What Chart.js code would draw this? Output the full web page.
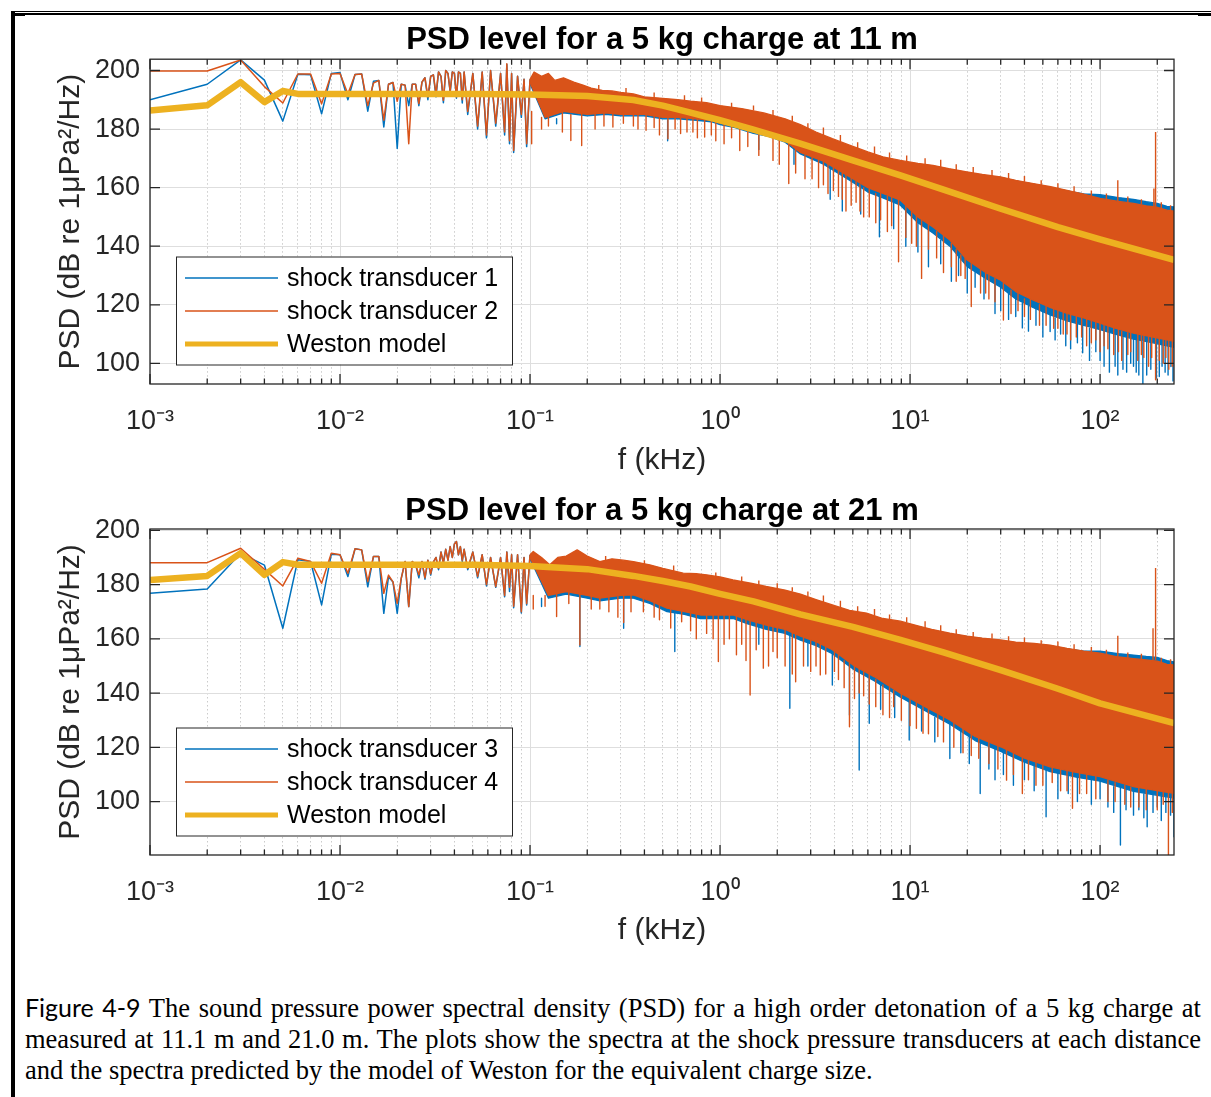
<!DOCTYPE html>
<html><head><meta charset="utf-8">
<script src="https://cdn.jsdelivr.net/npm/chart.js@4.4.1/dist/chart.umd.min.js"></script>
<style>
html,body{margin:0;padding:0;background:#fff;}
body{width:1211px;height:1097px;position:relative;overflow:hidden;}
canvas{position:absolute;left:0;}
#c1{top:0;}
#c2{top:480px;}
.cap{position:absolute;left:25px;width:1176px;font-family:"Liberation Serif","Times New Roman",serif;font-size:26.5px;line-height:31.5px;color:#000;white-space:nowrap;}
.j{text-align:justify;text-align-last:justify;}
.fig{font-family:Lato,"Open Sans",sans-serif;font-size:25px;}
.bar{position:absolute;background:#000;}
</style></head><body>
<canvas id="c1" width="1211" height="480"></canvas>
<canvas id="c2" width="1211" height="470"></canvas>
<div class="cap j" style="top:992px"><span class="fig">Figure 4-9</span> The sound pressure power spectral density (PSD) for a high order detonation of a 5 kg charge at</div>
<div class="cap j" style="top:1023.5px">measured at 11.1 m and 21.0 m. The plots show the spectra at the shock pressure transducers at each distance</div>
<div class="cap" style="top:1055px">and the spectra predicted by the model of Weston for the equivalent charge size.</div>
<div class="bar" style="left:11px;top:11px;width:1200px;height:1px"></div>
<div class="bar" style="left:11px;top:13px;width:1200px;height:1.5px"></div>
<div class="bar" style="left:11px;top:11px;width:4px;height:1086px"></div>
<div class="bar" style="left:11px;top:14px;width:14px;height:1.5px"></div>
<div class="bar" style="left:1198px;top:13px;width:13px;height:2.5px"></div>
<script>
// ---------------- DATA (frequencies in kHz, levels in dB re 1uPa^2/Hz) ----------------
const titles = ['PSD level for a 5 kg charge at 11 m', 'PSD level for a 5 kg charge at 21 m'];
const legend1 = ['shock transducer 1', 'shock transducer 2', 'Weston model'];
const legend2 = ['shock transducer 3', 'shock transducer 4', 'Weston model'];
const xTitle = 'f (kHz)';
const yTitle = 'PSD (dB re 1\u03BCPa\u00B2/Hz)';
const xMajor = [0.001, 0.01, 0.1, 1, 10, 100];
const xMajorLabels = ['10\u207B\u00B3', '10\u207B\u00B2', '10\u207B\u00B9', '10\u2070', '10\u00B9', '10\u00B2'];
const yTicks = [100, 120, 140, 160, 180, 200];

// low-frequency trace frequencies (shared)
const lowF = [0.001,0.002,0.003,0.004,0.005,0.006,0.007,0.008,0.009,0.010,
  0.011,0.012,0.013,0.014,0.015,0.016,0.017,0.018,0.019,0.020,
  0.021,0.022,0.023,0.024,0.025,0.026,0.027,0.028,0.029,0.030,
  0.031,0.032,0.033,0.034,0.035,0.036,0.037,0.038,0.039,0.040,
  0.041,0.042,0.043,0.044,0.045,
  0.047,0.050,0.053,0.056,0.059,0.062,0.066,0.070,0.0735,0.0755,0.078,0.080,0.082,0.086,0.090,0.093,0.096,0.100];

// Panel 1 (11 m)
const p1t1Low = [190.0,195.3,203.6,196.7,182.7,198.7,198.5,185.2,199.0,199.3,
  190.0,198.6,198.8,186.1,196.3,196.6,180.7,195.3,195.9,173.4,
  195.3,195.0,188.0,195.3,195.3,188.0,196.0,197.5,190.0,198.0,
  198.5,191.0,199.5,198.0,189.0,200.0,199.0,192.5,199.5,199.0,
  190.5,199.5,199.0,188.9,199.5,
  185.0,199.0,180.0,199.5,177.0,200.0,181.0,199.0,178.0,202.0,175.0,199.0,172.0,198.0,184.0,197.0,174.0,197.0];
const p1t2Low = [199.8,199.8,203.6,194.5,188.9,198.8,198.8,188.6,198.8,199.0,
  192.0,198.6,198.8,188.0,195.7,196.6,183.0,195.3,195.9,189.5,
  195.3,195.0,175.0,195.3,195.3,188.7,196.0,197.5,191.0,198.0,
  198.5,192.0,199.5,198.0,189.8,200.0,199.0,193.0,199.5,199.0,
  191.0,199.5,199.0,190.0,199.5,
  186.0,199.0,181.0,199.5,178.0,200.0,182.0,199.0,179.0,202.3,176.0,199.0,172.7,198.0,185.0,197.0,175.0,197.0];
const p1UpF = [0.1,0.105,0.115,0.125,0.135,0.15,0.17,0.19,0.21,0.24,0.27,0.3,0.35,0.4,0.5,0.6,0.7,0.85,1.0,1.3,1.7,2.2,2.65,3.2,3.9,4.8,6.0,7.2,8.9,11,13.2,16,19.9,24,29.9,36,44.6,55,67,82,100,125,150,175,200,225,245];
const p1t2Up = [197,199.5,198,199,196.6,197.5,196,195,194,193.2,193,192.5,192,191,190.5,190,189.5,189,188,187,185.5,183.5,181.5,179,176.7,174.5,172.2,170.5,169.3,168.3,167.6,166.5,165.4,164.5,163.7,162.5,161.4,160.3,159.1,157.8,156.3,155.3,154.6,153.8,153.3,152.3,152];
const p1t1Up = [196,199,197.5,198.5,196,197,195.5,194.5,193.5,193,192.5,192,191.5,190.5,190,189.5,189,188.5,187.5,186.5,185,183,181,178.5,176.2,174,171.7,170,168.8,167.8,167,166,165,164.2,163.5,162.3,161.2,160,158.9,157.9,157.6,156.6,156,155.2,154.6,153.6,153.4];
const p1LoF = [0.1,0.12,0.15,0.2,0.25,0.3,0.4,0.5,0.6,0.75,0.9,1.0,1.2,1.5,1.8,2.2,2.65,3.5,4.8,6.0,7.2,8.9,11,13.2,16.2,20,25,30,36,44.6,55,67,82,100,120,150,190,225,245];
const p1t2Lo = [196,184,186,185,185.5,185,185,184,184,183.5,183,182,181,179,178,176,172,169,163.7,160,158,155.7,150,146.6,142.1,135.3,131,128.4,124.5,121.6,119,117.1,115.5,113.7,112,110.3,109,108,107.5];
const p1t1Lo = [195.5,183.5,185.5,184.5,185,184.5,184.5,183.5,183.5,183,182.5,181.5,180.5,178.5,177.5,175.5,171.5,168,162.5,158.5,156.5,154,148,144.5,140,133,129,126,122,119,116.5,114.5,113,111.5,110,108.3,107,106,105.5];
// dips / spikes: [f, from, to]
const p1t2Sp = [[0.102,186,175.0],[0.115,184,180],[0.125,186,181],[0.148,186,179],[0.164,185,176.1],[0.187,185,174.4],[0.22,186,180],[0.245,185.5,181],[0.273,185.5,180.7],[0.31,185,182],[0.35,185,181],[0.37,185,180],[0.408,185,179.6],[0.45,184.5,180.5],[0.48,184.3,178],[0.532,184,176.7],[0.58,184,180],[0.62,184,178.5],[0.67,184,179.0],[0.72,183.7,179],[0.76,183.5,177],[0.83,183,177.3],[0.9,183,178],[0.95,182.5,176],
  [1.05,181.5,175],[1.15,181,177],[1.27,181,172.7],[1.4,180,174],[1.6,179,171],[1.9,177.5,169.3],[2.05,177,168],[2.3,176,161.4],[2.5,174,165],[2.8,171,163],[3.05,171,163],[3.3,170,160],[3.5,169,161],[3.7,168,158],[3.95,167,159],[4.2,166,157],[4.4,165,156],[4.6,164.5,152],[4.9,163.5,154],[5.2,162,155],[5.45,161,152],[5.7,160,150],[6.1,159.5,150],[6.6,158,148],[7.0,158,149],[7.6,157,145],[8.0,157,147],[8.7,156,134.7],[9.5,154,143],[10.2,152,141],[10.8,151,140],[11.5,149,129],[12.5,148,139],[13.8,145,136],[15,144,131],[16.5,141,133],[17.5,139,128],[18.5,137,130],[19.5,136,129],[21,134,119.4],[23.5,132,124],[25,131,124],[26,130,122],[28,129,121],[31,127.5,114.8],[34,125,117],[37,124,118],[40,122,116],[43,122,115],[48,120,113],[52,119.5,113],[57,118.7,112],[60,118,112],[64,117.5,110],[67,117.1,110],[70,117,108],[75,116,109],[80,115.7,109],[85,115,106],[90,114.5,107],[95,114,108],[100,113.7,104],[105,113.3,106],[110,113,105],[118,112,103],[125,111.8,104],[130,111,101],[140,110.5,103],[145,110.4,104],[158,110,101],[165,109.7,103],[170,109.5,102],[180,109,99],[187,109,102],[196,108.5,94.4],[205,108.5,101],[215,108,100],[222,108,102],[230,108,98],[240,107.5,99],
  [0.23,193.4,195],[0.32,192.3,194],[0.45,190.7,192.5],[0.65,189.8,191.5],[0.8,189.2,190.8],[1.15,187.5,189],[1.5,186.3,188],[1.9,184.7,186.5],[2.4,182.7,184.5],[2.9,180.4,182],
  [3.5,178,180.5],[4.3,175.5,178],[5.3,173.3,175.5],[6.5,171.5,174],[7.8,170,172],[9.6,169,171],[12,168,170],[14.5,167,169.5],[17.5,166,168],[21.5,165,167],[27,164,166],[33,163,165],[40,162,164],[49,160.8,162.5],[60,159.7,161.5],[73,158.5,160.5],[90,157,159],[108,156,158],[140,154.9,157],[165,154.2,156],[210,153,155],[235,152.2,154],
  [124,155.3,162.5],[192,153.5,159.7],[196,153.5,179]];
const p1t1Sp = [[0.138,183.5,181.8],[0.53,183,176],[1.6,178,173],[2.45,174,168],[3.8,168,156],[4.4,165,152],[5.5,160,151],[6.9,157,143.2],[8.2,155,146],[9.5,152,140],[11,148,138],[12.5,146,133],[14.5,142,134],[16.5,139.5,128],[18,137,130],[20,133,124],[22,131,126],[24.5,129.5,122],[28,127,117],[30,126,118],[33,124,115],[36,122,116],[39,120.5,112.1],[42,119.5,111],[46,118.5,113],[50,117.5,109],[54.6,116.5,110.9],[58,115.5,108],[62,115,110],[66,114.5,106],[70,113.8,105],[76,113.3,107],[81,113,103.6],[88,112,101],[95,111.7,104],[100,111.5,101],[105,111,99],[112,110.5,97],[120,110,99],[124,109.8,96],[132,109.2,98],[138,108.8,97],[145,108.5,100],[150,108.3,99],[155,108,97],[160,107.7,96],[168,107.3,92.4],[176,107.1,96],[185,107,98],[198,106.6,95],[205,106.5,95.5],[212,106.3,99],[220,106.1,97],[228,106,96],[236,105.7,98.9],[242,105.6,94]];

// Panel 2 (21 m)
const p2t3Low = [176.8,178.4,191.6,187.2,163.9,189.2,188.5,172.5,191.2,191.0,
  183.0,193.2,192.8,179.2,190.4,190.4,169.4,182.9,181.0,169.4,
  182.3,188.5,171.9,188.5,187.3,182.5,188.5,182.0,189.0,183.5,
  188.3,190.0,185.5,192.0,188.0,193.0,189.0,194.0,190.0,195.0,
  195.9,191.0,194.0,188.5,193.0,
  185.5,192.0,182.5,191.0,179.5,190.0,179.0,190.0,175.5,192.0,177.5,191.0,171.5,191.0,169.5,190.0,172.5,191.0];
const p2t4Low = [188.1,188.1,193.4,185.6,179.5,189.7,188.5,180.5,191.6,191.0,
  184.2,193.2,192.8,181.1,190.4,190.4,176.8,183.5,181.0,173.1,
  182.3,188.5,171.9,188.5,187.3,183.6,188.5,182.5,189.0,184.0,
  188.3,190.0,186.0,192.0,188.0,193.0,189.0,194.0,190.0,195.0,
  195.9,191.0,194.0,189.0,193.0,
  186.0,192.0,183.0,191.0,180.0,190.0,179.3,190.0,176.0,192.0,179.0,191.0,172.0,191.0,170.0,190.0,173.0,191.0];
const p2UpF = [0.1,0.104,0.115,0.127,0.14,0.155,0.177,0.2,0.233,0.27,0.31,0.35,0.427,0.5,0.64,0.75,0.85,1.0,1.17,1.45,1.75,2.2,2.65,3.2,3.9,4.8,5.9,7.2,8.9,11,13,16.2,20,24,30,36,45,54.6,67,82,100,125,150,175,200,225,245];
const p2t4Up = [191,192.2,190,187.3,190,190.5,192.8,190.5,188.5,189.5,189,188.5,187.3,186,184.2,184,183.6,182.8,181.7,180.5,179.3,178,176.5,174.5,172.5,170.5,169.5,167.5,166.5,164.8,163.5,162.1,161,160.3,159.6,158.8,158.3,157.7,156.5,155.5,154.7,153.3,152.7,152.2,151.8,150.6,150.4];
const p2t3Up = [190.5,191.7,189.5,186.8,189.5,190,192.3,190,188,189,188.5,188,186.8,185.5,183.7,183.5,183.1,182.3,181.2,180,178.8,177.5,176,174,172,170,169,167,166,164.5,163.2,161.8,160.8,160.1,159.3,158.5,158,157.4,156.3,155.5,155.5,154.5,154,153.5,153.2,152,151.5];
const p2LoF = [0.1,0.125,0.155,0.2,0.233,0.3,0.35,0.43,0.526,0.65,0.788,1.0,1.17,1.4,1.75,2.2,2.65,3.2,3.9,5.1,6.5,8.9,12,16.2,22,30,40,54.6,75,100,150,200,245];
const p2t4Lo = [190,176,177.4,176,175,176,176.2,174,171.3,170,168.8,168.8,168.8,167,165.1,163.5,161,159,156,150,146,140,135,130.1,124,120.2,116,112.8,110.8,109.2,105.5,104,103];
const p2t3Lo = [189.5,175,176.5,175,174,175,175,173,170,169,167.5,167.5,167.5,165.5,163.5,162,159.5,157.5,154.5,148.5,144.5,138.5,133.5,128.5,122.5,118.5,114.5,111,109,107.5,103.8,102.3,101.3];
const p2t4Sp = [[0.104,176,171],[0.12,176,172],[0.138,177,168.2],[0.16,177,173],[0.183,177,157.7],[0.21,176,171],[0.233,175.5,171],[0.26,175.5,170],[0.29,175.5,168],[0.311,176,166],[0.34,176,170],[0.395,175,170],[0.45,174,168],[0.48,173,167],[0.55,171,164],[0.628,170,166.3],[0.7,169.5,163],[0.75,169,160],[0.85,168.8,162],[0.92,168.8,160],[0.98,168.8,151.6],[1.05,168.8,158],[1.12,168.8,160],[1.22,168.5,154.1],[1.3,168,158],[1.37,167.5,152],[1.44,167,139.3],[1.55,166,156],[1.69,165.5,149.2],[1.8,165,150],[1.9,165,155.3],[2.0,164.3,153],[2.2,163.5,150],[2.4,162.5,147],[2.5,162,144.2],[2.75,160.5,150],[3.0,160,148],[3.2,159,150],[3.37,158,146.7],[3.6,158,147],[4.0,156,148],[4.2,154,145],[4.5,152,142],[4.8,151,127.6],[5.1,150,138],[5.4,149,140],[5.7,148,139],[6.1,147,136],[6.6,145,135],[7.2,143,132],[7.8,142,131],[8.2,141,135],[9,140,130],[10,138,128],[10.8,137,127],[11.7,135,125.2],[12.5,134,125],[14,132,124],[15,131,122],[17,129,120],[19,127,118],[21,125,117],[23,124,116],[26,122,114],[29,121,112],[32.2,119.5,107.9],[35,118,110],[39,117,103],[42,115.5,108],[46,114.5,106],[50,113.5,106],[56,112.6,107],[62,112,104],[67,111.5,104],[71.6,111,97.5],[78,110.6,103],[85,110,103],[95,109.5,101],[110,108,100],[120,107,100],[135,106,99],[145,105.3,98],[160,105,98],[175,104.6,97],[200,104,97],[215,103.7,99],[229,103.3,80.3],[240,103,96],
  [0.25,189,190.5],[0.4,187.6,189],[0.57,185,187],[0.95,183,184.5],[1.3,181.1,183],[1.6,179.8,181.5],[2.0,178.6,180.5],[2.4,177.5,179],[2.9,175.7,177.5],
  [3.5,173.5,176],[4.3,171.5,174],[5.3,170,172],[6.5,168.5,171],[7.8,167,169],[9.6,166,168],[12,164,166.5],[14.5,162.8,165],[17.5,161.6,163.5],[21.5,160.7,162.5],[27,160,162],[33,159.2,161],[40,158.5,160.5],[49,158,159.5],[60,157.1,159],[73,156,158],[90,155.1,157],[108,154.2,156],[140,152.9,155],[165,152.4,154.5],[210,151.5,153],[235,150.5,152.5],
  [124,153.3,161.1],[190,152.2,163.9],[196,152.2,186.1]];
const p2t3Sp = [[0.115,175,171.9],[0.183,176,157.2],[0.311,175,163.9],[0.578,169.5,155.3],[1.6,165,158],[2.33,162,134.4],[2.9,160,150],[3.9,154.5,143],[4.8,150,131.9],[5.4,148,111.6],[6.1,146,128.9],[7.0,144,134],[8.3,140,131],[9.9,137,122.7],[11.5,134,126],[13.5,131,122],[16.2,128.5,115.9],[18.5,126,118],[20.5,124,114],[23.4,122,103],[26,120.5,112],[28,119.5,108],[31,118,110],[35,116.5,106],[40,114.5,108],[45,113,104],[52,111.5,94.4],[60,110.3,101],[68,109.7,103],[76,109,100],[90,108,99],[100,107.5,101],[110,106.5,98],[118,105.5,96],[128,105,84],[137,104.5,97],[150,103.8,95],[160,103.3,97],[170,102.8,94],[177,102.6,90.7],[190,102.3,96],[200,102.3,98],[210,102,93],[222,101.7,96],[235,101.4,95],[245,101.3,87]];

// Weston model
const wF = [0.001,0.002,0.003,0.004,0.005,0.006,0.02,0.05,0.1,0.2,0.35,0.5,0.7,1.0,1.5,2.65,5,8.9,15,30,60,100,245];
const p1W = [186.3,188.1,196.0,189.2,193.0,192.0,192.0,192.0,191.8,191.3,189.9,188.0,185.6,183.0,179.8,175.0,169.3,164.2,159.3,152.8,146.5,142.3,135.3];
const p2W = [181.7,183.2,191.6,183.6,188.3,187.3,187.3,187.3,186.9,185.7,183.2,181.3,179.3,176.6,173.8,169.0,164.4,159.6,155.0,148.5,141.6,136.2,128.9];

// ---------------- STYLE / BUILD ----------------
const FONT = '"Liberation Sans", Arial, Helvetica, sans-serif';
Chart.defaults.font.family = FONT;
const BLUE = '#0072BD', ORANGE = '#D95319', YELLOW = '#EDB120', AXIS = '#262626';
const X_MIN = 0.001, X_MAX = 245;

const xTickVals = [];
xMajor.forEach(d => { xTickVals.push(d); [2,3,4,5,6,7,8,9].forEach(m => { if (m * d <= X_MAX) xTickVals.push(m * d); }); });
const isMajor = v => xMajor.indexOf(v) >= 0;

function xy(F, V) { return F.map((f, i) => ({x: f, y: V[i]})); }
function spikes(S) { const o = []; S.forEach(([f, a, b]) => { o.push({x: f, y: a}, {x: f, y: b}, {x: f, y: null}); }); return o; }

function buildDatasets(P) {
  const base = {pointRadius: 0, pointHoverRadius: 0, tension: 0, clip: 0, fill: false, borderJoinStyle: 'round', spanGaps: false};
  return [
    {...base, label: P.names[2], data: xy(wF, P.w), borderColor: YELLOW, borderWidth: 6.5, order: 1},
    {...base, label: P.names[1], data: xy(lowF, P.oLow), borderColor: ORANGE, borderWidth: 1.5, order: 2},
    {...base, label: P.names[1] + ' (upper)', data: xy(P.upF, P.oUp), borderColor: ORANGE, backgroundColor: ORANGE, borderWidth: 1.3, fill: '+1', order: 2},
    {...base, label: P.names[1] + ' (lower)', data: xy(P.loF, P.oLo), borderColor: ORANGE, borderWidth: 1.3, order: 2},
    {...base, label: P.names[1] + ' (dips)', data: spikes(P.oSp), borderColor: ORANGE, borderWidth: 1.4, order: 2},
    {...base, label: P.names[0], data: xy(lowF, P.bLow), borderColor: BLUE, borderWidth: 1.5, order: 3},
    {...base, label: P.names[0] + ' (upper)', data: xy(P.upF, P.bUp), borderColor: BLUE, backgroundColor: BLUE, borderWidth: 1.3, fill: '+1', order: 3},
    {...base, label: P.names[0] + ' (lower)', data: xy(P.loF, P.bLo), borderColor: BLUE, borderWidth: 1.3, order: 3},
    {...base, label: P.names[0] + ' (dips)', data: spikes(P.bSp), borderColor: BLUE, borderWidth: 1.4, order: 3}
  ];
}

const matlabAxes = {
  id: 'matlabAxes',
  afterDraw(chart) {
    const {ctx, chartArea: a} = chart;
    const xs = chart.scales.x, ys = chart.scales.y;
    ctx.save();
    ctx.strokeStyle = AXIS; ctx.lineWidth = 1.3;
    ctx.beginPath();
    xs.ticks.forEach(t => {
      const px = xs.getPixelForValue(t.value);
      const L = isMajor(t.value) ? 10 : 5.5;
      ctx.moveTo(px, a.bottom); ctx.lineTo(px, a.bottom - L);
      ctx.moveTo(px, a.top); ctx.lineTo(px, a.top + L);
    });
    ys.ticks.forEach(t => {
      const py = ys.getPixelForValue(t.value);
      ctx.moveTo(a.left, py); ctx.lineTo(a.left + 10, py);
      ctx.moveTo(a.right, py); ctx.lineTo(a.right - 10, py);
    });
    ctx.stroke();
    ctx.strokeRect(a.left, a.top, a.right - a.left, a.bottom - a.top);
    ctx.restore();
  }
};

function legendPlugin(names) {
  return {
    id: 'matlabLegend',
    afterDraw(chart) {
      const a = chart.chartArea, ctx = chart.ctx;
      const W = 336, H = 108, L = a.left + 26, T = a.bottom - 19.5 - H;
      ctx.save();
      ctx.fillStyle = '#fff'; ctx.fillRect(L, T, W, H);
      ctx.strokeStyle = AXIS; ctx.lineWidth = 1; ctx.strokeRect(L + 0.5, T + 0.5, W, H);
      const rows = [[BLUE, 1.5], [ORANGE, 1.5], [YELLOW, 5]];
      rows.forEach(([c, w], i) => {
        const yy = T + 21.5 + i * 33;
        ctx.strokeStyle = c; ctx.lineWidth = w;
        ctx.beginPath(); ctx.moveTo(L + 9, yy); ctx.lineTo(L + 102, yy); ctx.stroke();
        ctx.fillStyle = '#000'; ctx.font = '25px ' + FONT; ctx.textBaseline = 'middle'; ctx.textAlign = 'left';
        ctx.fillText(names[i], L + 111, yy + 1);
      });
      ctx.restore();
    }
  };
}

function makeChart(id, P) {
  return new Chart(document.getElementById(id), {
    type: 'line',
    data: {datasets: buildDatasets(P)},
    options: {
      responsive: false, animation: false, devicePixelRatio: 1, events: [],
      layout: {padding: {left: 40, right: 37, top: 0, bottom: 0}},
      plugins: {
        legend: {display: false}, tooltip: {enabled: false},
        title: {display: true, text: P.title, fullSize: false, color: '#000',
          font: {family: FONT, size: 31, weight: 'bold'}, padding: {top: P.tPadTop, bottom: P.tPadBot}}
      },
      scales: {
        x: {
          type: 'logarithmic', min: X_MIN, max: X_MAX, position: 'bottom',
          afterBuildTicks: s => { s.ticks = xTickVals.map(v => ({value: v, major: isMajor(v)})); },
          afterFit: s => { s.height = P.xAxisH; },
          ticks: {autoSkip: false, maxRotation: 0, minRotation: 0, padding: 21.5, color: AXIS,
            font: {family: FONT, size: 27},
            callback: v => { const i = xMajor.indexOf(v); return i >= 0 ? xMajorLabels[i] : ''; }},
          grid: {drawTicks: false, lineWidth: 1, color: c => (c.tick && !isMajor(c.tick.value)) ? '#cbcbcb' : '#dedede'},
          border: {display: false, dash: c => (c.tick && !isMajor(c.tick.value)) ? [1.5, 2.5] : []},
          title: {display: true, text: xTitle, color: AXIS, font: {family: FONT, size: 30}, padding: {top: 0, bottom: 1}}
        },
        y: {
          type: 'linear', min: P.ymin, max: P.ymax, position: 'left',
          afterBuildTicks: s => { s.ticks = yTicks.map(v => ({value: v})); },
          afterFit: s => { s.width = 110; },
          ticks: {padding: 10, color: AXIS, font: {family: FONT, size: 27}, callback: v => String(v)},
          grid: {drawTicks: false, lineWidth: 1, color: '#dedede'},
          border: {display: false},
          title: {display: true, text: yTitle, color: AXIS, font: {family: FONT, size: 30}, padding: {top: 13, bottom: 0}}
        }
      }
    },
    plugins: [matlabAxes, legendPlugin(P.names)]
  });
}

makeChart('c1', {
  title: titles[0], names: legend1, tPadTop: 22, tPadBot: 0, xAxisH: 96, ymin: 92.95, ymax: 203.85,
  w: p1W, oLow: p1t2Low, bLow: p1t1Low, upF: p1UpF, oUp: p1t2Up, bUp: p1t1Up,
  loF: p1LoF, oLo: p1t2Lo, bLo: p1t1Lo, oSp: p1t2Sp, bSp: p1t1Sp
});
makeChart('c2', {
  title: titles[1], names: legend2, tPadTop: 13, tPadBot: -1.2, xAxisH: 95, ymin: 80.3, ymax: 200.5,
  w: p2W, oLow: p2t4Low, bLow: p2t3Low, upF: p2UpF, oUp: p2t4Up, bUp: p2t3Up,
  loF: p2LoF, oLo: p2t4Lo, bLo: p2t3Lo, oSp: p2t4Sp, bSp: p2t3Sp
});
</script>
</body></html>
